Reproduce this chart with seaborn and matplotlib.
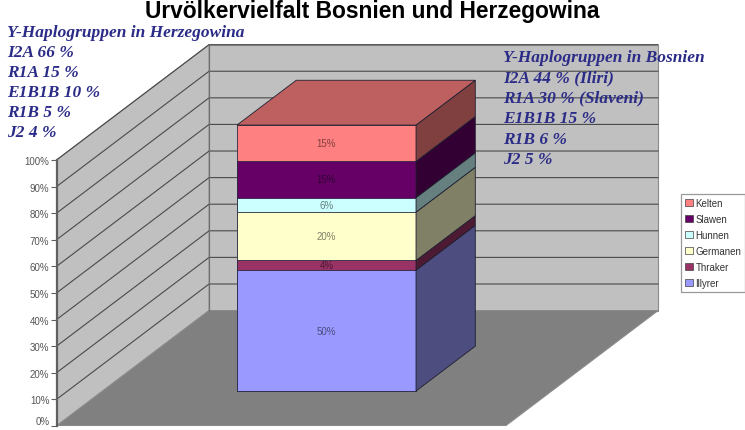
import numpy as np
import matplotlib
matplotlib.use("Agg")
import matplotlib.pyplot as plt
import matplotlib.patches as mpatches
from matplotlib.ticker import PercentFormatter
import seaborn as sns

# data, bottom to top of the stacked column
groups = ["Illyrer", "Thraker", "Germanen", "Hunnen", "Slawen", "Kelten"]
values = [50, 4, 20, 6, 15, 15]
front_colors = ["#9999ff", "#993366", "#ffffcc", "#ccffff", "#660066", "#ff8080"]
category = ["Bosnien und Herzegowina"]

title = "Urvölkervielfalt Bosnien und Herzegowina"
notes_herzegowina = ["Y-Haplogruppen in Herzegowina", "I2A 66 %", "R1A 15 %",
                     "E1B1B 10 %", "R1B 5 %", "J2 4 %"]
notes_bosnien = ["Y-Haplogruppen in Bosnien", "I2A 44 % (Iliri)", "R1A 30 % (Slaveni)",
                 "E1B1B 15 %", "R1B 6 %", "J2 5 %"]
y_ticks = list(range(0, 101, 10))

# 100% stacked column: heights are shares, labels keep the raw values
shares = np.array(values) / np.sum(values) * 100
tops = np.cumsum(shares)
bottoms = tops - shares


def shade(color, f):
    r, g, b = matplotlib.colors.to_rgb(color)
    return (r * f, g * f, b * f)


# oblique "3D" projection, the axes plane is the front face of the bar
DX, DY = 0.679, 43.2          # full depth of the floor in data units
T_FRONT, T_BACK = 0.30, 0.69  # depth of the bar
X_LEFT, X_RIGHT = -1.0, 1.006
HALF = 0.4                    # half bar width


def proj(x, t, p):
    return (x + (t - T_FRONT) * DX, p + (t - T_FRONT) * DY)


fig = plt.figure(figsize=(7.45, 4.31), dpi=100)
ax = fig.add_axes([0, 0, 1, 1])

wall_col = "#c0c0c0"
grid_col = "#4a4a4a"
left_wall = [proj(X_LEFT, 0, 0), proj(X_LEFT, 1, 0), proj(X_LEFT, 1, 100), proj(X_LEFT, 0, 100)]
back_wall = [proj(X_LEFT, 1, 0), proj(X_RIGHT, 1, 0), proj(X_RIGHT, 1, 100), proj(X_LEFT, 1, 100)]
floor = [proj(X_LEFT, 0, 0), proj(X_RIGHT, 0, 0), proj(X_RIGHT, 1, 0), proj(X_LEFT, 1, 0)]
for poly, col in [(left_wall, wall_col), (back_wall, wall_col), (floor, "#808080")]:
    ax.add_patch(mpatches.Polygon(poly, closed=True, facecolor=col, edgecolor="#8a8a8a",
                                  linewidth=0.8, zorder=0.2))

# gridlines on the walls
for p in y_ticks[1:]:
    pts = np.array([proj(X_LEFT, 0, p), proj(X_LEFT, 1, p), proj(X_RIGHT, 1, p)])
    ax.plot(pts[:, 0], pts[:, 1], color=grid_col, linewidth=0.8, zorder=0.3)
edge = np.array([proj(X_LEFT, 1, 0), proj(X_LEFT, 1, 100)])
ax.plot(edge[:, 0], edge[:, 1], color="#707070", linewidth=0.8, zorder=0.3)

# front faces with seaborn, tallest first so the lower ones cover them
for top, col in reversed(list(zip(tops, front_colors))):
    sns.barplot(x=category, y=[top], color=col, saturation=1, width=2 * HALF,
                edgecolor="#2a2a40", linewidth=0.6, ax=ax)

# side faces and top face
for b, t, col in zip(bottoms, tops, front_colors):
    side = [proj(HALF, T_FRONT, b), proj(HALF, T_BACK, b), proj(HALF, T_BACK, t), proj(HALF, T_FRONT, t)]
    ax.add_patch(mpatches.Polygon(side, closed=True, facecolor=shade(col, 0.5),
                                  edgecolor="#1e1e30", linewidth=0.6, zorder=1.5))
top_face = [proj(-HALF, T_FRONT, 100), proj(HALF, T_FRONT, 100),
            proj(HALF, T_BACK, 100), proj(-HALF, T_BACK, 100)]
ax.add_patch(mpatches.Polygon(top_face, closed=True, facecolor=shade(front_colors[-1], 0.75),
                              edgecolor="#1e1e30", linewidth=0.6, zorder=1.5))

# value labels in the middle of each segment
for b, t, v in zip(bottoms, tops, values):
    ax.text(0, (b + t) / 2, f"{v}%", ha="center", va="center", fontsize=7,
            color="black", alpha=0.5, family="Liberation Sans", zorder=3)

ax.set_xlim(-1.459, 1.870)
ax.set_ylim(-14.66, 147.4)
ax.axis("off")

# percent axis on the front edge of the left wall
ax_y = fig.add_axes([57 / 745, 4 / 431, 0.01, 266 / 431])
ax_y.set_ylim(0, 100)
ax_y.set_yticks(y_ticks)
ax_y.yaxis.set_major_formatter(PercentFormatter(decimals=0))
ax_y.set_xticks([])
ax_y.patch.set_visible(False)
for s in ["top", "right", "bottom"]:
    ax_y.spines[s].set_visible(False)
ax_y.spines["left"].set_color("#606060")
ax_y.spines["left"].set_linewidth(1.6)
ax_y.tick_params(axis="y", length=4, width=0.8, color="#606060", labelcolor="#555555",
                 labelsize=7, pad=1.5)
for lab in ax_y.get_yticklabels():
    lab.set_family("Liberation Sans")
# keep the 0% label inside the picture
ax_y.get_yticklabels()[0].set_verticalalignment("bottom")

fig.text(0.5, 1 - 18 / 431, title, ha="center", va="baseline", fontsize=16.4,
         fontweight="bold", family="Liberation Sans", color="black")

note_kw = dict(fontsize=12.5, fontweight="bold", fontstyle="italic",
               family="Liberation Serif", color="#2b2b88", va="center", ha="left")
for i, line in enumerate(notes_herzegowina):
    fig.text(7 / 745, 1 - (33 + 20 * i) / 431, line, **note_kw)
for i, line in enumerate(notes_bosnien):
    fig.text(503 / 745, 1 - (58 + 20.4 * i) / 431, line, **note_kw)

# legend, top entry first like the stack
handles = [mpatches.Patch(facecolor=c, edgecolor="#404040", linewidth=0.5, label=g)
           for g, c in zip(groups[::-1], front_colors[::-1])]
leg = fig.legend(handles=handles, loc="upper left", bbox_to_anchor=(681 / 745, 1 - 195 / 431),
                 fontsize=7, frameon=True, fancybox=False, edgecolor="#808080",
                 handlelength=0.8, handleheight=0.8, handletextpad=0.3,
                 labelspacing=0.62, borderpad=0.4, borderaxespad=0)
leg.get_frame().set_linewidth(0.9)
for txt in leg.get_texts():
    txt.set_family("Liberation Sans")
    txt.set_color("#333333")

fig.savefig("out.png", dpi=100, facecolor="white")
